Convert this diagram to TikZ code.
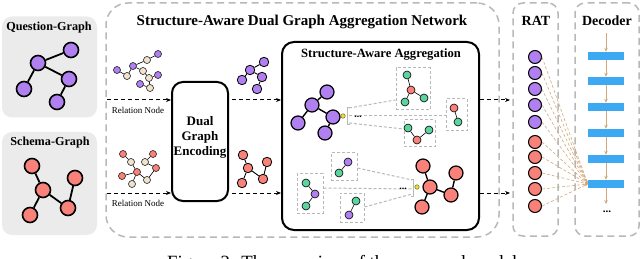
\documentclass[tikz,border=0pt]{standalone}
\usepackage{fontspec}
\setmainfont{Liberation Serif}
\usetikzlibrary{arrows.meta}
\definecolor{purp}{HTML}{B07FF0}
\definecolor{salm}{HTML}{F8827A}
\definecolor{beig}{HTML}{F0E2CC}
\definecolor{mint}{HTML}{5DD39E}
\definecolor{dgray}{HTML}{B8B8B8}
\definecolor{panelgray}{HTML}{EBEBEB}
\definecolor{barblue}{HTML}{3DA9F2}
\definecolor{tanc}{HTML}{D2A878}
\definecolor{yel}{HTML}{F2E21C}
\tikzset{
  bigP/.style={circle,draw=black,line width=1.6pt,fill=purp,minimum size=15pt,inner sep=0pt},
  bigR/.style={bigP,fill=salm},
  aggP/.style={circle,draw=black,line width=1.2pt,fill=purp,minimum size=14pt,inner sep=0pt},
  aggR/.style={aggP,fill=salm},
  midP/.style={circle,draw=black,line width=0.8pt,fill=purp,minimum size=9.5pt,inner sep=0pt},
  midR/.style={midP,fill=salm},
  smP/.style={circle,draw=black,line width=0.5pt,fill=purp,minimum size=7pt,inner sep=0pt},
  smB/.style={smP,fill=beig},
  smR/.style={smP,fill=salm},
  bxP/.style={circle,draw=black,line width=0.6pt,fill=purp,minimum size=8pt,inner sep=0pt},
  bxG/.style={bxP,fill=mint},
  bxR/.style={bxP,fill=salm},
  ratP/.style={circle,draw=black,line width=1pt,fill=purp,minimum size=13pt,inner sep=0pt},
  ratR/.style={ratP,fill=salm},
  yelnode/.style={circle,draw=black!70,line width=0.4pt,fill=yel,minimum size=4.5pt,inner sep=0pt},
  bigedge/.style={line width=1.8pt,black},
  aggedge/.style={line width=1.4pt,black},
  midedge/.style={line width=0.9pt,black},
  smedge/.style={line width=0.6pt,black},
  panelbox/.style={fill=panelgray,rounded corners=10pt,inner sep=0pt},
  graydash/.style={draw=dgray,line width=1.5pt,dash pattern=on 7pt off 4.5pt},
  smalldash/.style={draw=dgray,line width=1pt,dash pattern=on 3pt off 2pt},
  blackbox/.style={draw=black,line width=2pt,inner sep=0pt},
  flowarrow/.style={black,line width=1pt,dash pattern=on 4pt off 3pt,-{Stealth[length=5pt,width=4pt]}},
  tanarrow/.style={tanc,line width=1pt,-{Stealth[length=4pt,width=3.5pt]}},
  tandash/.style={tanc,line width=0.6pt,dash pattern=on 3pt off 2pt,-{Stealth[length=3pt,width=2.5pt]}},
  bar/.style={fill=barblue,minimum width=36pt,minimum height=8pt,inner sep=0pt},
  ttl/.style={font=\bfseries\fontsize{14}{16}\selectfont,inner sep=0pt},
  dotsstyle/.style={font=\bfseries\fontsize{10}{10}\selectfont,inner sep=0pt},
}
\begin{document}
\begin{tikzpicture}[x=1pt,y=-1pt]
\useasboundingbox (0,0) rectangle (640,259);
\clip (0,0) rectangle (640,259);

% ---------- left panels ----------
\node[panelbox,minimum width=95pt,minimum height=101pt] (qpanel) at (49.5,67) {};
\node[ttl,font=\bfseries\fontsize{12.2}{14}\selectfont] (qtitle) at (49,28) {Question-Graph};
\node[bigP] (q1) at (38,63) {};
\node[bigP] (q2) at (71,50) {};
\node[bigP] (q3) at (69,79) {};
\node[bigP] (q4) at (24,89) {};
\node[bigP] (q5) at (57,102) {};
\draw[bigedge] (q1) -- (q2) (q1) -- (q3) (q1) -- (q4) (q3) -- (q5);

\node[panelbox,minimum width=95pt,minimum height=103pt] (spanel) at (49.5,183.5) {};
\node[ttl,font=\bfseries\fontsize{12.2}{14}\selectfont] (stitle) at (50,143) {Schema-Graph};
\node[bigR] (s1) at (32,166) {};
\node[bigR] (s2) at (43,190) {};
\node[bigR] (s3) at (75,178) {};
\node[bigR] (s4) at (68,208) {};
\node[bigR] (s5) at (30,215) {};
\draw[bigedge] (s1) -- (s2) (s2) -- (s5) (s2) -- (s4) (s4) -- (s3);

% ---------- big dashed frames ----------
\node[graydash,rounded corners=22pt,minimum width=393pt,minimum height=234pt,inner sep=0pt] (sadga) at (302.5,120) {};
\node[ttl,font=\bfseries\fontsize{15}{17}\selectfont] (sadgatitle) at (302,22) {Structure-Aware Dual Graph Aggregation Network};
\node[graydash,rounded corners=10pt,minimum width=45pt,minimum height=233pt,inner sep=0pt] (ratbox) at (535.5,119.5) {};
\node[ttl] (rattitle) at (536,21) {RAT};
\node[graydash,rounded corners=10pt,minimum width=64pt,minimum height=233pt,inner sep=0pt] (decbox) at (607,119.5) {};
\node[ttl] (dectitle) at (607,21) {Decoder};

% ---------- relation graphs ----------
\node[smP] (t1) at (117,70) {};
\node[smB] (t2) at (127,76) {};
\node[smP] (t3) at (133,66) {};
\node[smB] (t4) at (147,60) {};
\node[smP] (t5) at (158,54) {};
\node[smB] (t6) at (143,71) {};
\node[smB] (t7) at (149,78) {};
\node[smP] (t8) at (158,75) {};
\node[smP] (t9) at (140,84) {};
\node[smB] (t10) at (150,88) {};
\draw[smedge] (t1) -- (t2) (t2) -- (t3) (t3) -- (t4) (t4) -- (t5) (t3) -- (t6) (t6) -- (t7) (t7) -- (t8) (t9) -- (t10) (t10) -- (t7);

\node[smR] (r1) at (123,154) {};
\node[smB] (r2) at (131,162) {};
\node[smR] (r3) at (137,172) {};
\node[smR] (r4) at (122,176) {};
\node[smB] (r5) at (132,184) {};
\node[smB] (r6) at (147,180) {};
\node[smR] (r7) at (156,168) {};
\node[smB] (r8) at (145,162) {};
\node[smR] (r9) at (153,154) {};
\draw[smedge] (r1) -- (r2) (r2) -- (r3) (r3) -- (r4) (r3) -- (r5) (r3) -- (r6) (r6) -- (r7) (r7) -- (r8) (r8) -- (r9);

\coordinate (in1) at (107,100);
\coordinate (in2) at (107,193);
\node[font=\fontsize{9}{10}\selectfont,inner sep=0pt] (rel1) at (138,110) {Relation Node};
\node[font=\fontsize{9}{10}\selectfont,inner sep=0pt] (rel2) at (138,203) {Relation Node};

% ---------- dual graph encoding ----------
\node[blackbox,rounded corners=11pt,minimum width=56pt,minimum height=119pt] (dge) at (200,141.5) {};
\node[ttl,align=center,font=\bfseries\fontsize{13}{15}\selectfont] (dgetext) at (200,137) {Dual\\Graph\\Encoding};

\draw[flowarrow] (in1) -- (in1 -| dge.west);
\draw[flowarrow] (in2) -- (in2 -| dge.west);

% encoded graphs
\node[midP] (o1) at (264,62) {};
\node[midP] (o2) at (250,70) {};
\node[midP] (o3) at (242,80) {};
\node[midP] (o4) at (262,77) {};
\node[midP] (o5) at (257,89) {};
\draw[midedge] (o1) -- (o2) (o2) -- (o3) (o2) -- (o4) (o4) -- (o5);
\node[midR] (u1) at (243,155) {};
\node[midR] (u2) at (248,168) {};
\node[midR] (u3) at (242,183) {};
\node[midR] (u4) at (263,179) {};
\node[midR] (u5) at (267,162) {};
\draw[midedge] (u1) -- (u2) (u2) -- (u3) (u2) -- (u4) (u4) -- (u5);

% ---------- structure-aware aggregation ----------
\node[blackbox,rounded corners=12pt,minimum width=197pt,minimum height=188pt] (agg) at (380.5,136) {};
\node[ttl,font=\bfseries\fontsize{12.6}{14}\selectfont] (aggtitle) at (381,55) {Structure-Aware Aggregation};

\coordinate (o2out) at (232,100);
\coordinate (u2out) at (232,193);
\draw[flowarrow] (o2out) -- (o2out -| agg.west);
\draw[flowarrow] (u2out) -- (u2out -| agg.west);

% top half
\node[aggP] (a1) at (327,92) {};
\node[aggP] (a2) at (312,105) {};
\node[aggP] (a3) at (333,117) {};
\node[aggP] (a4) at (298,123) {};
\node[aggP] (a5) at (325,133) {};
\draw[aggedge] (a1) -- (a2) (a2) -- (a3) (a2) -- (a4) (a3) -- (a5);
\node[yelnode] (y1) at (343,116) {};

\node[smalldash,minimum width=34pt,minimum height=42pt,inner sep=0pt] (bxA) at (413,89) {};
\node[bxG] (gA1) at (407,75) {};
\node[bxR] (rA) at (411,90) {};
\node[bxG] (gA2) at (405,102) {};
\node[bxG] (gA3) at (424,98) {};
\draw[smedge] (gA1) -- (rA) (rA) -- (gA2) (rA) -- (gA3);

\node[smalldash,minimum width=21pt,minimum height=32pt,inner sep=0pt] (bxB) at (456.5,115) {};
\node[bxR] (rB) at (454,108) {};
\node[bxG] (gB) at (458,122) {};
\draw[smedge] (rB) -- (gB);

\node[smalldash,minimum width=31pt,minimum height=27pt,inner sep=0pt] (bxC) at (419.5,133.5) {};
\node[bxG] (gC1) at (408,128) {};
\node[bxG] (gC2) at (429,130) {};
\node[bxR] (rC) at (417,140) {};
\draw[smedge] (gC1) -- (rC) (gC2) -- (rC);

\coordinate (br1a) at (350,107);
\draw[dgray,line width=0.8pt] (br1a) -- ++(-2.5,0) -- ++(0,17) -- ++(2.5,0);
\coordinate (br1t) at (349,108);
\coordinate (br1m) at (349,116);
\coordinate (br1l) at (349,123);
\draw[smalldash] (br1t) -- (bxA.west |- 0,100);
\draw[smalldash] (br1m) -- (bxB.west |- 0,116);
\draw[smalldash] (br1l) -- (bxC.west |- 0,129);
\node[dotsstyle] (dots1) at (358,117) {...};

% bottom half
\node[aggR] (b1) at (423,166) {};
\node[aggR] (b2) at (456,173) {};
\node[aggR] (b3) at (430,187) {};
\node[aggR] (b4) at (451,195) {};
\node[aggR] (b5) at (422,207) {};
\draw[aggedge] (b1) -- (b3) (b3) -- (b5) (b3) -- (b4) (b4) -- (b2);
\node[yelnode] (y2) at (417,187) {};

\node[smalldash,minimum width=26pt,minimum height=27pt,inner sep=0pt] (bxD) at (344,166.5) {};
\node[bxP] (pD) at (348,162) {};
\node[bxG] (gD) at (339,173) {};
\draw[smedge] (pD) -- (gD);

\node[smalldash,minimum width=26pt,minimum height=39pt,inner sep=0pt] (bxE) at (310,193.5) {};
\node[bxG] (gE1) at (306,183) {};
\node[bxP] (pE) at (315,194) {};
\node[bxG] (gE2) at (306,206) {};
\draw[smedge] (gE1) -- (pE) (pE) -- (gE2);

\node[smalldash,minimum width=24pt,minimum height=29pt,inner sep=0pt] (bxF) at (352,207.5) {};
\node[bxG] (gF) at (356,201) {};
\node[bxP] (pF) at (349,215) {};
\draw[smedge] (gF) -- (pF);

\coordinate (br2a) at (411,179);
\draw[dgray,line width=0.8pt] (br2a) -- ++(2.5,0) -- ++(0,17) -- ++(-2.5,0);
\coordinate (br2t) at (412,180);
\coordinate (br2m) at (412,189);
\coordinate (br2l) at (412,194);
\draw[smalldash] (bxD.east |- 0,168) -- (br2t);
\draw[smalldash] (bxE.east |- 0,188) -- (br2m);
\draw[smalldash] (bxF.east |- 0,207) -- (br2l);
\node[dotsstyle] (dots2) at (403,189) {...};

% ---------- RAT ----------
\foreach \i/\yy in {1/57,2/73,3/89,4/105,5/122}{
  \node[ratP] (rp\i) at (535,\yy) {};
}
\foreach \i/\yy in {1/142,2/157,3/173,4/189,5/206}{
  \node[ratR] (rr\i) at (535,\yy) {};
}
\coordinate (ratin1) at (510,100);
\coordinate (ratin2) at (510,193);
\draw[flowarrow] (agg.east |- ratin1) -- (ratin1);
\draw[flowarrow] (agg.east |- ratin2) -- (ratin2);

% ---------- Decoder ----------
\foreach \i/\yy in {1/56,2/81,3/107,4/133,5/159,6/184}{
  \node[bar] (bar\i) at (606,\yy) {};
}
\coordinate (dectop) at (606,33);
\coordinate (decbot) at (606,204);
\draw[tanarrow] (dectop) -- (bar1.north);
\foreach \i/\j in {1/2,2/3,3/4,4/5,5/6}{
  \draw[tanarrow] (bar\i.south) -- (bar\j.north);
}
\draw[tanarrow] (bar6.south) -- (decbot);
\node[dotsstyle,font=\bfseries\fontsize{11}{11}\selectfont] (decdots) at (607,212) {...};

\foreach \i in {1,...,5}{
  \draw[tandash] (rp\i.east) -- (bar6.west);
  \draw[tandash] (rr\i.east) -- (bar6.west);
}

% ---------- caption ----------
\node[anchor=base west,font=\fontsize{18.7}{20}\selectfont,inner sep=0pt] (caption) at (167,268.5) {Figure 2: The overview of the proposed model.};
\end{tikzpicture}
\end{document}
